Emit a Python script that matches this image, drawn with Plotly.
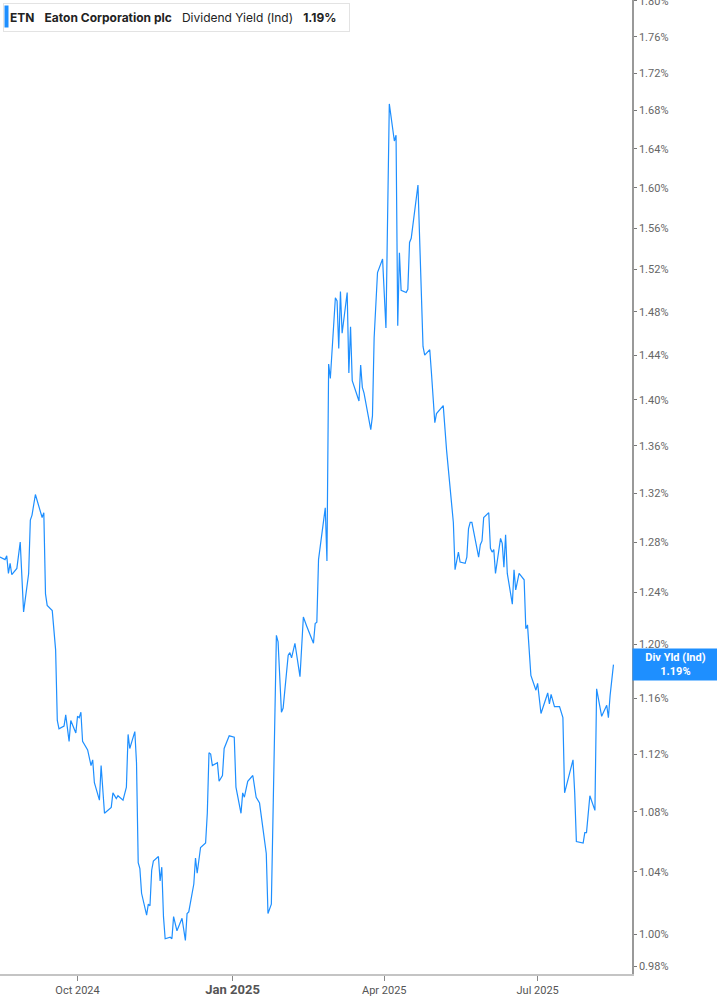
import plotly.graph_objects as go

# ETN dividend yield (indicated), %
dates = [
    "2024-08-16", "2024-08-19", "2024-08-20", "2024-08-21", "2024-08-22", "2024-08-23",
    "2024-08-26", "2024-08-27", "2024-08-28", "2024-08-30", "2024-09-02", "2024-09-03",
    "2024-09-04", "2024-09-06", "2024-09-09", "2024-09-10", "2024-09-11", "2024-09-12",
    "2024-09-13", "2024-09-16", "2024-09-18", "2024-09-19", "2024-09-20", "2024-09-23",
    "2024-09-24", "2024-09-26", "2024-09-27", "2024-09-30", "2024-10-01", "2024-10-02",
    "2024-10-03", "2024-10-04", "2024-10-07", "2024-10-09", "2024-10-10", "2024-10-11",
    "2024-10-14", "2024-10-15", "2024-10-17", "2024-10-21", "2024-10-22", "2024-10-24",
    "2024-10-25", "2024-10-28", "2024-10-30", "2024-10-31", "2024-11-01", "2024-11-04",
    "2024-11-05", "2024-11-06", "2024-11-07", "2024-11-08", "2024-11-11", "2024-11-12",
    "2024-11-13", "2024-11-14", "2024-11-15", "2024-11-18", "2024-11-19", "2024-11-20",
    "2024-11-21", "2024-11-22", "2024-11-25", "2024-11-26", "2024-11-27", "2024-11-29",
    "2024-12-02", "2024-12-04", "2024-12-05", "2024-12-06", "2024-12-09", "2024-12-10",
    "2024-12-11", "2024-12-13", "2024-12-16", "2024-12-17", "2024-12-18", "2024-12-19",
    "2024-12-20", "2024-12-23", "2024-12-24", "2024-12-26", "2024-12-27", "2024-12-30",
    "2025-01-02", "2025-01-03", "2025-01-06", "2025-01-07", "2025-01-08", "2025-01-10",
    "2025-01-13", "2025-01-15", "2025-01-17", "2025-01-21", "2025-01-22", "2025-01-24",
    "2025-01-27", "2025-01-28", "2025-01-30", "2025-01-31", "2025-02-03", "2025-02-04",
    "2025-02-05", "2025-02-07", "2025-02-10", "2025-02-12", "2025-02-14", "2025-02-18",
    "2025-02-19", "2025-02-20", "2025-02-21", "2025-02-25", "2025-02-26", "2025-02-27",
    "2025-02-28", "2025-03-03", "2025-03-04", "2025-03-05", "2025-03-06", "2025-03-07",
    "2025-03-10", "2025-03-11", "2025-03-12", "2025-03-13", "2025-03-17", "2025-03-18",
    "2025-03-19", "2025-03-20", "2025-03-24", "2025-03-25", "2025-03-26", "2025-03-28",
    "2025-03-31", "2025-04-02", "2025-04-04", "2025-04-07", "2025-04-08", "2025-04-09",
    "2025-04-10", "2025-04-11", "2025-04-14", "2025-04-15", "2025-04-16", "2025-04-17",
    "2025-04-21", "2025-04-24", "2025-04-25", "2025-04-28", "2025-04-29", "2025-05-01",
    "2025-05-02", "2025-05-06", "2025-05-08", "2025-05-12", "2025-05-13", "2025-05-15",
    "2025-05-16", "2025-05-19", "2025-05-20", "2025-05-21", "2025-05-22", "2025-05-23",
    "2025-05-27", "2025-05-28", "2025-05-29", "2025-05-30", "2025-06-02", "2025-06-03",
    "2025-06-04", "2025-06-05", "2025-06-06", "2025-06-09", "2025-06-10", "2025-06-11",
    "2025-06-12", "2025-06-13", "2025-06-16", "2025-06-17", "2025-06-18", "2025-06-20",
    "2025-06-23", "2025-06-24", "2025-06-25", "2025-06-27", "2025-06-30", "2025-07-01",
    "2025-07-03", "2025-07-07", "2025-07-08", "2025-07-09", "2025-07-11", "2025-07-14",
    "2025-07-16", "2025-07-17", "2025-07-22", "2025-07-23", "2025-07-24", "2025-07-28",
    "2025-07-29", "2025-07-30", "2025-08-01", "2025-08-04", "2025-08-05", "2025-08-08",
    "2025-08-11", "2025-08-12", "2025-08-13", "2025-08-15",
]
div_yield = [
    1.268, 1.266, 1.269, 1.255, 1.263, 1.254,
    1.259, 1.270, 1.280, 1.225, 1.255, 1.298,
    1.302, 1.319, 1.306, 1.300, 1.304, 1.239,
    1.230, 1.226, 1.196, 1.144, 1.138, 1.140,
    1.148, 1.129, 1.144, 1.135, 1.147, 1.146,
    1.150, 1.129, 1.123, 1.112, 1.116, 1.100,
    1.088, 1.112, 1.079, 1.083, 1.093, 1.089,
    1.091, 1.088, 1.097, 1.134, 1.124, 1.136,
    1.114, 1.046, 1.042, 1.026, 1.012, 1.019,
    1.018, 1.041, 1.047, 1.050, 1.034, 1.043,
    1.011, 0.997, 0.998, 0.997, 1.011, 1.002,
    1.010, 0.996, 1.013, 1.014, 1.032, 1.049,
    1.039, 1.056, 1.059, 1.079, 1.121, 1.120,
    1.112, 1.114, 1.101, 1.105, 1.124, 1.133,
    1.132, 1.097, 1.079, 1.093, 1.090, 1.101,
    1.105, 1.090, 1.086, 1.052, 1.013, 1.019,
    1.207, 1.202, 1.150, 1.153, 1.192, 1.194,
    1.190, 1.201, 1.176, 1.221, 1.214, 1.201,
    1.216, 1.217, 1.266, 1.308, 1.265, 1.432,
    1.419, 1.493, 1.490, 1.446, 1.499, 1.460,
    1.498, 1.424, 1.466, 1.417, 1.399, 1.431,
    1.411, 1.406, 1.374, 1.386, 1.456, 1.517,
    1.530, 1.465, 1.687, 1.648, 1.654, 1.467,
    1.536, 1.500, 1.498, 1.501, 1.546, 1.550,
    1.603, 1.448, 1.440, 1.445, 1.424, 1.380,
    1.388, 1.395, 1.356, 1.296, 1.258, 1.272,
    1.264, 1.263, 1.268, 1.291, 1.296, 1.296,
    1.268, 1.278, 1.281, 1.300, 1.304, 1.275,
    1.272, 1.274, 1.255, 1.283, 1.279, 1.260,
    1.286, 1.255, 1.231, 1.258, 1.242, 1.255,
    1.250, 1.212, 1.215, 1.177, 1.166, 1.171,
    1.149, 1.164, 1.156, 1.163, 1.154, 1.154,
    1.146, 1.093, 1.116, 1.093, 1.060, 1.059,
    1.066, 1.066, 1.091, 1.081, 1.167, 1.147,
    1.155, 1.146, 1.162, 1.185,
]

y_ticks = [0.98, 1.00, 1.04, 1.08, 1.12, 1.16, 1.20, 1.24, 1.28, 1.32, 1.36,
           1.40, 1.44, 1.48, 1.52, 1.56, 1.60, 1.64, 1.68, 1.72, 1.76, 1.80]
x_ticks = ["2024-10-01", "2025-01-01", "2025-04-01", "2025-07-01"]
x_labels = ["Oct 2024", "<b><span style='font-size:13px'>Jan 2025</span></b>",
            "Apr 2025", "Jul 2025"]

LINE = "#1e8fff"
last = div_yield[-1]

fig = go.Figure(go.Scatter(
    x=dates, y=div_yield, mode="lines",
    line=dict(color=LINE, width=1.2),
    hoverinfo="skip", showlegend=False))

fig.update_layout(
    width=717, height=1005,
    margin=dict(l=0, r=85, t=0, b=31),
    paper_bgcolor="white", plot_bgcolor="white",
    font=dict(family="Roboto", color="#555555", size=11),
    xaxis=dict(
        range=["2024-08-16", "2025-08-26"],
        tickvals=x_ticks, ticktext=x_labels, automargin=False,
        showgrid=False, zeroline=False,
        showline=True, linecolor="#c4c4c4", linewidth=2,
        ticks="outside", ticklen=5, tickcolor="#888888",
        tickfont=dict(size=11, color="#555555")),
    yaxis=dict(
        type="log", side="right", automargin=False,
        range=[-0.01094, 0.25554],
        tickvals=y_ticks, ticktext=["%.2f%%" % v for v in y_ticks],
        ticklabeloverflow="allow",
        showgrid=False, zeroline=False,
        showline=True, linecolor="#999999", linewidth=1.5,
        ticks="outside", ticklen=3, tickcolor="#777777",
        tickfont=dict(size=11, color="#666666")),
)

# header box top-left
fig.add_annotation(
    xref="paper", yref="paper", x=0.004, y=0.997,
    xanchor="left", yanchor="top", showarrow=False, align="left",
    text="<b>ETN</b>   <b>Eaton Corporation plc</b>   Dividend Yield (Ind)   <b>1.19%</b>  ",
    font=dict(family="Inter", size=12, color="#222222"),
    bgcolor="white", bordercolor="#e3e3e3", borderwidth=1, borderpad=6)
fig.add_annotation(
    xref="paper", yref="paper", x=0.0065, y=0.9945,
    xanchor="left", yanchor="top", showarrow=False,
    text=" ", width=3, height=21, bgcolor=LINE, borderpad=0)

# last value flag on the right axis
fig.add_annotation(
    xref="paper", yref="y", x=1.0, y=0.07371,
    xanchor="left", yanchor="middle", showarrow=False,
    text="<b>Div Yld (Ind)<br>%.2f%%</b>" % last,
    font=dict(family="Roboto", size=11, color="white"),
    bgcolor=LINE, borderpad=2, width=81, align="center")

fig.write_html("out.html", config={"displayModeBar": False},
               post_script="document.body.style.margin='0';")
